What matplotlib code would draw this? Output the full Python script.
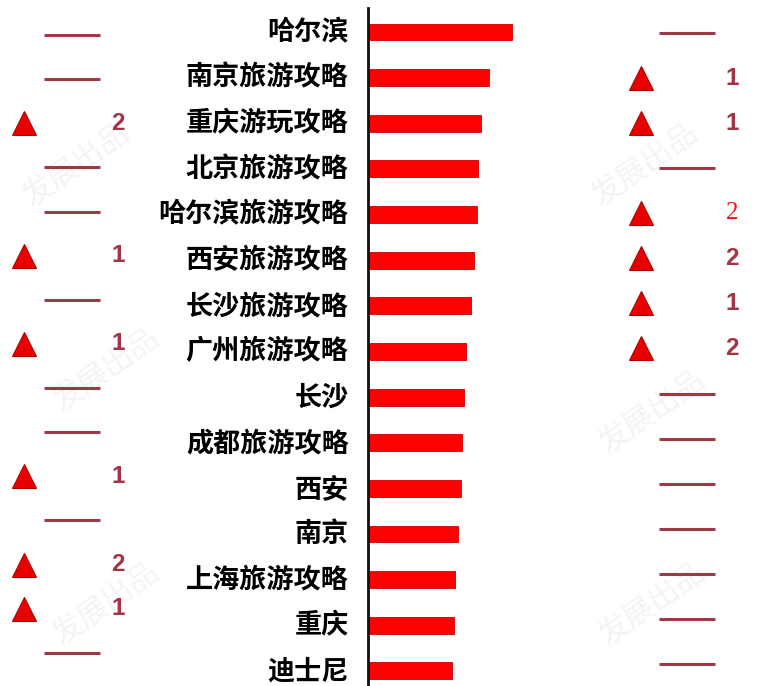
import matplotlib
matplotlib.use("Agg")
import matplotlib.pyplot as plt
import matplotlib.transforms as mtransforms

plt.rcParams['font.family'] = ['Noto Sans CJK SC', 'DejaVu Sans']

# ---- data ----
labels = ['哈尔滨', '南京旅游攻略', '重庆游玩攻略', '北京旅游攻略', '哈尔滨旅游攻略',
          '西安旅游攻略', '长沙旅游攻略', '广州旅游攻略', '长沙', '成都旅游攻略',
          '西安', '南京', '上海旅游攻略', '重庆', '迪士尼']
values = [144, 121, 113, 110, 109, 106, 103, 98, 96, 94, 93, 90, 87, 86, 84]

# rank change: 0 -> unchanged (dash), n -> up by n (triangle)
left_change = [0, 0, 2, 0, 0, 1, 0, 1, 0, 0, 1, 0, 2, 1, 0]
right_change = [0, 1, 1, 0, 2, 2, 1, 2, 0, 0, 0, 0, 0, 0, 0]
right_serif_row = 4   # this "2" is drawn in a serif face in the source

BAR_RED = '#ff0000'
DASH_COL = '#9b3a44'
NUM_COL = '#a33446'
TRI_COL = '#e80000'

W, H = 758, 686
fig = plt.figure(figsize=(W / 100, H / 100), dpi=100)
fig.patch.set_facecolor('white')

rows = list(range(len(labels)))

# ---- faint watermark, behind everything ----
bg = fig.add_axes([0, 0, 1, 1], zorder=-5)
bg.axis('off')
for (wx, wy) in [(0.10, 0.76), (0.14, 0.46), (0.85, 0.76), (0.86, 0.40), (0.14, 0.12), (0.86, 0.12)]:
    bg.text(wx, wy, '发展出品', fontsize=22, color='#f4f4f4', rotation=35,
            ha='center', va='center', transform=bg.transAxes)

# ---- main bar axes ----
ax = fig.add_axes([368 / W, 0, (W - 368) / W, 678 / H])
ax.set_facecolor('none')
ax.barh(rows, values, height=0.37, color=BAR_RED, edgecolor='#d00000', linewidth=0.6)
ax.set_xlim(0, W - 368)
ax.set_ylim(14.33, -0.526)
ax.set_yticks(rows)
ax.set_yticklabels(labels, fontsize=19.5, fontweight='bold', color='black')
ax.tick_params(axis='y', length=0, pad=14)
ax.set_xticks([])
for s in ['top', 'right', 'bottom']:
    ax.spines[s].set_visible(False)
ax.spines['left'].set_linewidth(2)
ax.spines['left'].set_color('#111111')

# nudge the category labels up a hair so the last one stays inside
lift = mtransforms.ScaledTranslation(0, 2 / 72, fig.dpi_scale_trans)
for t in ax.get_yticklabels():
    t.set_transform(t.get_transform() + lift)


def draw_column(axc, changes, tri_x, dash_x, num_x, serif_row=None):
    for r, c in enumerate(changes):
        if c == 0:
            axc.plot(dash_x, r, marker='_', markersize=40, markeredgewidth=2.2,
                     color=DASH_COL)
        else:
            axc.plot(tri_x, r, marker='^', markersize=17, color=TRI_COL,
                     markeredgecolor='#b40000', markeredgewidth=0.8)
            if r == serif_row:
                axc.text(num_x, r, str(c), fontsize=18, color='#ff1010',
                         family='Liberation Serif', ha='center', va='center')
            else:
                axc.text(num_x, r, str(c), fontsize=17.5, fontweight='bold',
                         color=NUM_COL, family='Liberation Sans',
                         ha='center', va='center')


# ---- left column ----
axl = fig.add_axes([0, 0, 150 / W, 1])
axl.set_facecolor('none')
axl.set_xlim(0, 150)
axl.set_ylim(14.75, -0.793)
axl.axis('off')
draw_column(axl, left_change, 24, 71.5, 118)

# ---- right column ----
axr = fig.add_axes([610 / W, 0, 148 / W, 1])
axr.set_facecolor('none')
axr.set_xlim(610, 758)
axr.set_ylim(14.49, -0.732)
axr.axis('off')
draw_column(axr, right_change, 641, 686.5, 732, serif_row=right_serif_row)

fig.savefig('out.png', dpi=100, facecolor='white')
